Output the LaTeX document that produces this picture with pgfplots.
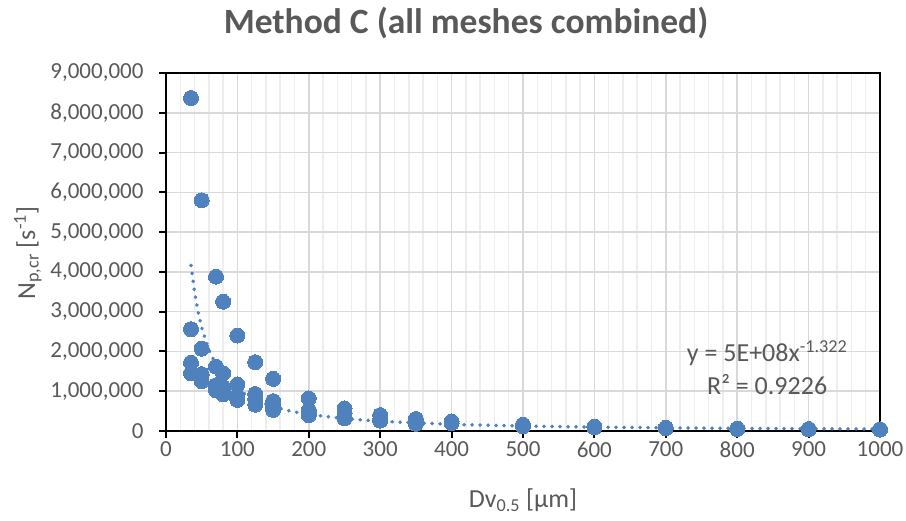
\documentclass[border=0pt]{standalone}
\usepackage{fontspec}
\setmainfont{Carlito}
\usepackage{pgfplots}
\pgfplotsset{compat=1.18}
\definecolor{mk}{RGB}{79,129,189}
\definecolor{txt}{RGB}{89,89,89}
\definecolor{gmaj}{RGB}{217,217,217}
\definecolor{gmin}{RGB}{238,238,238}
\begin{document}
\begin{tikzpicture}[x=1pt,y=1pt]
\path[use as bounding box] (0,0) rectangle (906,521);
\begin{axis}[
  at={(166pt,90pt)}, anchor=south west,
  scale only axis, width=714pt, height=358pt,
  xmin=0, xmax=1000, ymin=0, ymax=9000000,
  xtick={0,100,200,300,400,500,600,700,800,900,1000},
  ytick={0,1000000,2000000,3000000,4000000,5000000,6000000,7000000,8000000,9000000},
  minor x tick num=4,
  xmajorgrids, xminorgrids, ymajorgrids,
  major grid style={gmaj, line width=1.5pt},
  minor grid style={gmin, line width=1.5pt},
  axis line style={black, line width=2pt},
  tick align=outside, major tick length=7pt, minor tick length=0pt,
  major tick style={black, line width=2pt},
  xtick pos=bottom, ytick pos=left,
  scaled y ticks=false, scaled x ticks=false,
  /pgf/number format/assume math mode=true,
  /pgf/number format/fixed,
  y tick label style={/pgf/number format/1000 sep={,}, xshift=-12pt},
  x tick label style={/pgf/number format/1000 sep={}},
  tick label style={font=\fontsize{23}{27}\selectfont, text=txt},
  clip=false,
]
\addplot[only marks, mark=*, mark size=7.5pt, mark options={fill=mk, draw=mk, line width=0pt}] coordinates {
(35,8370000) (35,2560000) (35,1720000) (35,1450000)
(50,5800000) (50,2070000) (50,1430000) (50,1250000)
(70,3880000) (70,1620000) (70,1150000) (70,1020000)
(80,3250000) (80,1450000) (80,1100000) (80,920000)
(100,2400000) (100,1170000) (100,880000) (100,780000)
(125,1730000) (125,930000) (125,800000) (125,660000)
(150,1310000) (150,750000) (150,620000) (150,530000)
(200,820000) (200,520000) (200,450000) (200,400000)
(250,570000) (250,450000) (250,350000) (250,320000)
(300,400000) (300,300000) (300,260000)
(350,300000) (350,220000) (350,180000)
(400,240000) (400,200000)
(500,160000) (500,120000)
(600,110000) (600,90000)
(700,80000) (700,70000)
(800,60000) (800,50000)
(900,50000) (900,40000)
(1000,40000) (1000,35000)
};
\addplot[mk, line width=3.6pt, line cap=round, dash pattern=on 0.4pt off 7.6pt] coordinates {
(35,4166000) (40,3491000) (45,2987000) (50,2599000) (60,2042000)
(70,1666000) (80,1396000) (100,1039000) (125,774000) (150,608000)
(175,496000) (200,416000) (250,310000) (300,243000) (400,166000)
(500,124000) (600,97300) (700,79300) (800,66500) (900,56900) (1000,49500)
};
\node[anchor=base, text=txt, font=\fontsize{26}{30}\selectfont] at (axis cs:842,1742000) {y = 5E+08x\textsuperscript{-1.322}};
\node[anchor=base, text=txt, font=\fontsize{26}{30}\selectfont] at (axis cs:842,905000) {R² = 0.9226};
\end{axis}
\node[anchor=base, text=txt, font=\fontsize{35.5}{40}\selectfont\bfseries] at (466,487) {Method C (all meshes combined)};
\node[anchor=base, text=txt, font=\fontsize{26}{30}\selectfont] at (523,13) {Dv\textsubscript{0.5} [µm]};
\node[anchor=base, rotate=90, text=txt, font=\fontsize{26}{30}\selectfont] at (35,268) {N\textsubscript{p,cr} [s\textsuperscript{-1}]};
\end{tikzpicture}
\end{document}
